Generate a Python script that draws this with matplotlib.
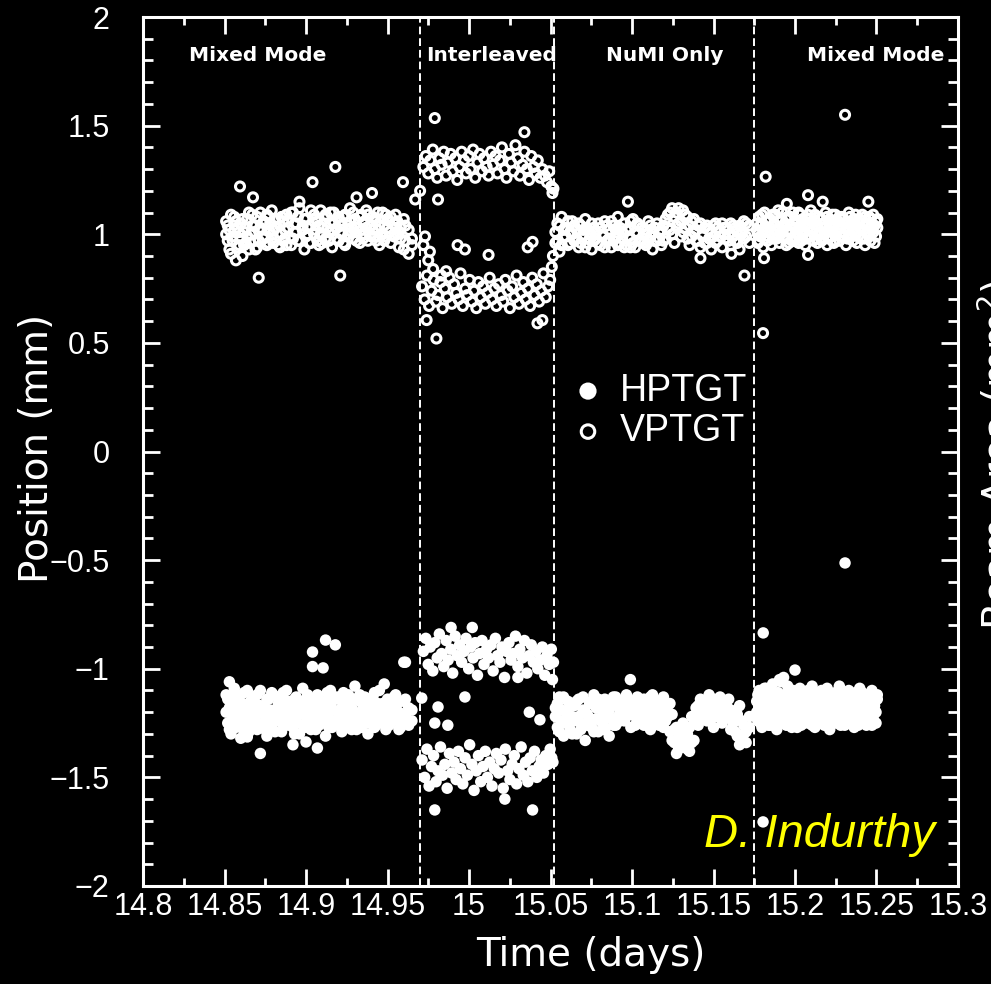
import numpy as np
import matplotlib
matplotlib.use("Agg")
import matplotlib.pyplot as plt
from matplotlib.ticker import MultipleLocator, FixedLocator, FixedFormatter

# ---- data (time in days, position in mm) ----
# mixed mode, first block (two readings per time stamp)
t_mix1 = [14.851, 14.852, 14.853, 14.854, 14.855, 14.856, 14.857, 14.858, 14.859, 14.860,
          14.861, 14.862, 14.863, 14.864, 14.865, 14.866, 14.867, 14.868, 14.869, 14.870,
          14.871, 14.872, 14.874, 14.875, 14.876, 14.877, 14.878, 14.879, 14.880, 14.881,
          14.883, 14.884, 14.885, 14.886, 14.887, 14.888, 14.889, 14.891, 14.892, 14.893,
          14.894, 14.895, 14.896, 14.898, 14.899, 14.900, 14.901, 14.902, 14.903, 14.905,
          14.906, 14.907, 14.908, 14.909, 14.910, 14.912, 14.913, 14.914, 14.915, 14.916,
          14.917, 14.919, 14.920, 14.921, 14.922, 14.923, 14.924, 14.926, 14.927, 14.928,
          14.929, 14.930, 14.931, 14.933, 14.934, 14.935, 14.936, 14.937, 14.938, 14.940,
          14.941, 14.942, 14.943, 14.944, 14.945, 14.947, 14.948, 14.949, 14.950, 14.951,
          14.952, 14.954, 14.955, 14.956, 14.957, 14.958, 14.960, 14.961, 14.963, 14.965]
v_mix1 = [1.06, 0.97, 1.02, 0.91, 0.99, 1.08, 0.88, 1.03, 0.95, 1.05,
          0.90, 1.01, 0.96, 1.07, 0.93, 1.00, 1.09, 0.97, 1.04, 0.94,
          1.02, 1.10, 0.98, 1.05, 0.95, 1.08, 1.01, 1.11, 0.96, 1.03,
          1.07, 0.94, 1.00, 1.06, 0.98, 1.09, 1.03, 0.95, 1.10, 1.01,
          1.05, 0.97, 1.12, 1.02, 0.93, 1.07, 1.00, 1.04, 0.96, 1.09,
          1.02, 1.06, 0.95, 1.11, 1.03, 0.98, 1.08, 1.01, 1.05, 0.94,
          1.10, 1.03, 0.97, 1.06, 1.00, 1.08, 0.95, 1.04, 1.12, 1.01,
          0.98, 1.07, 1.03, 0.96, 1.09, 1.05, 1.00, 1.11, 0.97, 1.04,
          1.08, 0.99, 1.06, 1.02, 0.95, 1.10, 1.04, 0.99, 1.07, 1.01,
          0.96, 1.05, 1.09, 1.00, 0.94, 1.03, 1.07, 0.97, 1.02, 0.95]
v_mix1b = [1.00, 1.04, 0.93, 1.09, 0.97, 1.02, 1.06, 0.94, 1.01, 0.98,
           1.07, 0.95, 1.03, 0.99, 1.10, 0.96, 1.04, 1.01, 0.93, 1.08,
           0.97, 1.03, 1.06, 0.99, 1.09, 0.96, 1.05, 0.98, 1.02, 1.07,
           0.95, 1.04, 1.08, 0.97, 1.02, 0.95, 1.06, 1.10, 0.98, 1.05,
           1.01, 1.08, 0.97, 1.04, 1.07, 0.99, 1.03, 0.96, 1.11, 1.00,
           1.07, 0.97, 1.04, 1.00, 0.96, 1.09, 1.03, 0.97, 1.10, 1.02,
           1.05, 0.98, 1.08, 1.01, 1.04, 0.96, 1.09, 1.00, 1.06, 1.03,
           1.10, 1.01, 0.97, 1.08, 1.02, 0.98, 1.06, 1.03, 1.09, 0.99,
           1.02, 1.07, 0.97, 1.10, 1.04, 1.00, 0.97, 1.09, 1.03, 1.06,
           1.08, 0.99, 1.03, 1.06, 1.01, 0.98, 0.93, 1.04, 0.91, 0.98]
h_mix1 = [-1.12, -1.25, -1.18, -1.30, -1.21, -1.09, -1.27, -1.15, -1.23, -1.32,
          -1.19, -1.11, -1.26, -1.17, -1.29, -1.22, -1.13, -1.24, -1.16, -1.28,
          -1.20, -1.10, -1.25, -1.18, -1.31, -1.14, -1.22, -1.27, -1.12, -1.19,
          -1.24, -1.16, -1.29, -1.11, -1.21, -1.26, -1.15, -1.23, -1.18, -1.30,
          -1.13, -1.25, -1.20, -1.09, -1.27, -1.17, -1.22, -1.14, -1.28, -1.19,
          -1.24, -1.12, -1.26, -1.18, -1.21, -1.31, -1.15, -1.23, -1.10, -1.27,
          -1.19, -1.25, -1.14, -1.22, -1.29, -1.16, -1.20, -1.12, -1.26, -1.18,
          -1.23, -1.08, -1.28, -1.15, -1.21, -1.25, -1.13, -1.19, -1.30, -1.17,
          -1.22, -1.11, -1.26, -1.16, -1.24, -1.19, -1.07, -1.28, -1.14, -1.21,
          -1.25, -1.17, -1.12, -1.23, -1.20, -1.27, -1.15, -1.22, -1.18, -1.24]
h_mix1b = [-1.20, -1.14, -1.28, -1.17, -1.23, -1.11, -1.19, -1.26, -1.13, -1.21,
           -1.16, -1.29, -1.20, -1.10, -1.24, -1.15, -1.27, -1.18, -1.22, -1.12,
           -1.26, -1.17, -1.21, -1.28, -1.14, -1.24, -1.19, -1.11, -1.23, -1.29,
           -1.16, -1.21, -1.13, -1.26, -1.18, -1.10, -1.24, -1.19, -1.27, -1.14,
           -1.22, -1.17, -1.30, -1.15, -1.21, -1.25, -1.12, -1.19, -1.23, -1.16,
           -1.28, -1.20, -1.14, -1.25, -1.17, -1.22, -1.11, -1.27, -1.19, -1.15,
           -1.24, -1.13, -1.21, -1.26, -1.18, -1.11, -1.25, -1.16, -1.22, -1.28,
           -1.14, -1.20, -1.24, -1.12, -1.27, -1.18, -1.22, -1.15, -1.25, -1.20,
           -1.13, -1.27, -1.19, -1.23, -1.10, -1.16, -1.25, -1.21, -1.17, -1.26,
           -1.19, -1.13, -1.22, -1.16, -1.28, -1.21, -1.24, -1.14, -1.26, -1.19]

# interleaved, pulse type a
t_int_a = [14.9720, 14.9735, 14.9750, 14.9762, 14.9778, 14.9790, 14.9805, 14.9818, 14.9832, 14.9845,
           14.9860, 14.9872, 14.9888, 14.9900, 14.9915, 14.9928, 14.9942, 14.9955, 14.9970, 14.9982,
           14.9998, 15.0010, 15.0025, 15.0038, 15.0052, 15.0065, 15.0080, 15.0092, 15.0108, 15.0120,
           15.0135, 15.0148, 15.0162, 15.0175, 15.0190, 15.0202, 15.0218, 15.0230, 15.0245, 15.0258,
           15.0272, 15.0285, 15.0300, 15.0312, 15.0328, 15.0340, 15.0355, 15.0368, 15.0382, 15.0395,
           15.0410, 15.0422, 15.0438, 15.0450, 15.0465, 15.0478, 15.0492, 15.0505, 15.0512, 15.0518]
v_int_a = [1.31, 1.36, 1.28, 1.34, 1.39, 1.30, 1.26, 1.35, 1.32, 1.38,
           1.27, 1.33, 1.37, 1.29, 1.35, 1.25, 1.31, 1.38, 1.34, 1.28,
           1.36, 1.30, 1.39, 1.26, 1.33, 1.37, 1.29, 1.35, 1.31, 1.27,
           1.38, 1.32, 1.36, 1.28, 1.34, 1.40, 1.30, 1.26, 1.37, 1.33,
           1.29, 1.41, 1.35, 1.27, 1.32, 1.38, 1.30, 1.25, 1.36, 1.31,
           1.28, 1.34, 1.26, 1.30, 1.27, 1.24, 1.29, 1.22, 1.19, 1.21]
h_int_a = [-0.92, -0.86, -0.98, -0.90, -1.01, -0.88, -0.95, -0.84, -0.93, -0.99,
           -0.87, -0.96, -0.91, -1.02, -0.85, -0.94, -0.89, -0.97, -0.92, -0.86,
           -1.00, -0.90, -0.95, -0.88, -1.03, -0.93, -0.87, -0.98, -0.91, -0.95,
           -0.89, -1.01, -0.86, -0.94, -0.97, -0.90, -1.04, -0.92, -0.88, -0.96,
           -0.93, -0.85, -0.99, -0.91, -0.95, -0.87, -1.02, -0.94, -0.89, -0.97,
           -0.92, -1.00, -0.96, -0.90, -1.03, -0.94, -0.98, -0.91, -1.05, -0.97]

# interleaved, pulse type b
t_int_b = [14.9712, 14.9728, 14.9742, 14.9755, 14.9770, 14.9783, 14.9798, 14.9810, 14.9825, 14.9838,
           14.9852, 14.9866, 14.9880, 14.9894, 14.9908, 14.9921, 14.9935, 14.9948, 14.9962, 14.9976,
           14.9990, 15.0004, 15.0018, 15.0031, 15.0045, 15.0058, 15.0072, 15.0086, 15.0100, 15.0113,
           15.0127, 15.0141, 15.0155, 15.0168, 15.0182, 15.0196, 15.0210, 15.0223, 15.0237, 15.0251,
           15.0265, 15.0278, 15.0292, 15.0306, 15.0320, 15.0333, 15.0347, 15.0361, 15.0375, 15.0388,
           15.0402, 15.0416, 15.0430, 15.0443, 15.0457, 15.0471, 15.0485, 15.0498, 15.0508, 15.0515]
v_int_b = [0.76, 0.70, 0.81, 0.67, 0.74, 0.79, 0.69, 0.72, 0.78, 0.66,
           0.75, 0.71, 0.80, 0.68, 0.77, 0.73, 0.70, 0.82, 0.67, 0.75,
           0.72, 0.79, 0.69, 0.74, 0.66, 0.78, 0.71, 0.76, 0.68, 0.73,
           0.80, 0.70, 0.75, 0.67, 0.77, 0.72, 0.69, 0.79, 0.74, 0.66,
           0.76, 0.71, 0.81, 0.68, 0.73, 0.78, 0.70, 0.75, 0.67, 0.80,
           0.72, 0.77, 0.69, 0.74, 0.82, 0.71, 0.76, 0.79, 0.85, 0.90]
h_int_b = [-1.42, -1.50, -1.37, -1.54, -1.45, -1.40, -1.52, -1.47, -1.36, -1.49,
           -1.44, -1.55, -1.39, -1.48, -1.43, -1.51, -1.38, -1.46, -1.53, -1.41,
           -1.49, -1.35, -1.44, -1.56, -1.47, -1.40, -1.52, -1.45, -1.38, -1.50,
           -1.43, -1.54, -1.46, -1.39, -1.48, -1.42, -1.55, -1.37, -1.47, -1.51,
           -1.44, -1.40, -1.53, -1.46, -1.36, -1.49, -1.43, -1.52, -1.41, -1.47,
           -1.38, -1.50, -1.45, -1.42, -1.48, -1.40, -1.44, -1.37, -1.41, -1.43]

# NuMI only (two readings per time stamp)
t_numi = [15.0530, 15.0542, 15.0555, 15.0568, 15.0580, 15.0594, 15.0607, 15.0620, 15.0633, 15.0646,
          15.0660, 15.0673, 15.0686, 15.0700, 15.0713, 15.0726, 15.0740, 15.0753, 15.0766, 15.0780,
          15.0793, 15.0806, 15.0820, 15.0833, 15.0846, 15.0860, 15.0873, 15.0886, 15.0900, 15.0913,
          15.0926, 15.0940, 15.0953, 15.0966, 15.0980, 15.0993, 15.1006, 15.1020, 15.1033, 15.1046,
          15.1060, 15.1073, 15.1086, 15.1100, 15.1113, 15.1126, 15.1140, 15.1153, 15.1166, 15.1180,
          15.1193, 15.1206, 15.1220, 15.1233, 15.1246, 15.1260, 15.1273, 15.1286, 15.1300, 15.1313,
          15.1326, 15.1340, 15.1353, 15.1366, 15.1380, 15.1393, 15.1406, 15.1420, 15.1433, 15.1446,
          15.1460, 15.1473, 15.1486, 15.1500, 15.1513, 15.1526, 15.1540, 15.1553, 15.1566, 15.1580,
          15.1593, 15.1606, 15.1620, 15.1633, 15.1646, 15.1660, 15.1673, 15.1686, 15.1700, 15.1720]
v_numi = [0.96, 1.05, 0.92, 1.08, 0.99, 1.03, 0.95, 1.01, 1.06, 0.97,
          1.02, 0.94, 1.04, 0.99, 1.07, 0.96, 1.01, 0.93, 1.03, 0.98,
          1.05, 0.95, 1.00, 1.06, 0.97, 1.02, 0.94, 1.04, 0.99, 1.08,
          0.96, 1.01, 1.05, 0.95, 1.03, 0.98, 1.07, 0.94, 1.00, 1.04,
          0.97, 1.02, 0.95, 1.06, 0.99, 0.93, 1.03, 0.97, 1.01, 0.95,
          1.04, 0.98, 1.09, 1.02, 1.12, 0.96, 1.10, 1.05, 0.99, 1.11,
          1.03, 1.08, 0.95, 1.06, 1.01, 0.97, 1.04, 0.94, 1.00, 1.03,
          0.96, 1.02, 0.93, 0.99, 1.05, 0.97, 1.01, 0.94, 1.03, 0.98,
          1.00, 0.95, 1.04, 0.97, 1.02, 0.93, 1.01, 0.98, 1.05, 0.96]
v_numib = [1.01, 0.97, 1.04, 0.95, 1.02, 0.99, 1.06, 0.96, 1.00, 1.04,
           0.98, 1.05, 0.96, 1.02, 0.94, 1.03, 0.98, 1.05, 0.97, 1.01,
           0.96, 1.03, 0.99, 0.94, 1.04, 0.98, 1.06, 0.97, 1.02, 0.95,
           1.03, 0.98, 0.94, 1.02, 0.99, 1.06, 0.96, 1.01, 1.05, 0.97,
           1.03, 0.96, 1.00, 0.97, 1.04, 1.01, 0.97, 1.05, 0.98, 1.02,
           0.97, 1.07, 1.03, 1.10, 1.00, 1.08, 1.04, 1.12, 1.06, 1.01,
           1.09, 0.98, 1.04, 0.99, 1.07, 1.02, 0.97, 1.05, 0.99, 0.96,
           1.04, 0.98, 1.01, 1.04, 0.96, 1.03, 0.99, 1.05, 1.00, 1.03,
           0.97, 1.05, 0.99, 1.03, 0.96, 1.04, 1.00, 1.06, 0.99, 1.04]
h_numi = [-1.18, -1.27, -1.13, -1.24, -1.31, -1.20, -1.15, -1.28, -1.22, -1.17,
          -1.30, -1.14, -1.25, -1.19, -1.33, -1.21, -1.16, -1.27, -1.12, -1.23,
          -1.29, -1.18, -1.25, -1.14, -1.21, -1.31, -1.17, -1.26, -1.13, -1.22,
          -1.19, -1.15, -1.24, -1.12, -1.20, -1.27, -1.16, -1.22, -1.13, -1.25,
          -1.18, -1.14, -1.23, -1.17, -1.28, -1.12, -1.21, -1.15, -1.26, -1.19,
          -1.13, -1.24, -1.17, -1.29, -1.21, -1.34, -1.27, -1.37, -1.31, -1.25,
          -1.36, -1.30, -1.38, -1.22, -1.33, -1.18, -1.26, -1.14, -1.21, -1.17,
          -1.24, -1.12, -1.19, -1.27, -1.15, -1.22, -1.13, -1.25, -1.18, -1.21,
          -1.14, -1.28, -1.20, -1.24, -1.31, -1.17, -1.33, -1.26, -1.29, -1.22]
h_numib = [-1.22, -1.16, -1.29, -1.19, -1.13, -1.25, -1.21, -1.17, -1.30, -1.24,
           -1.15, -1.22, -1.28, -1.13, -1.20, -1.26, -1.23, -1.15, -1.29, -1.18,
           -1.14, -1.24, -1.20, -1.28, -1.16, -1.19, -1.23, -1.13, -1.26, -1.17,
           -1.24, -1.20, -1.14, -1.22, -1.17, -1.15, -1.21, -1.26, -1.18, -1.14,
           -1.22, -1.26, -1.16, -1.20, -1.13, -1.24, -1.18, -1.22, -1.15, -1.23,
           -1.27, -1.18, -1.22, -1.16, -1.33, -1.28, -1.39, -1.32, -1.35, -1.29,
           -1.33, -1.37, -1.27, -1.34, -1.25, -1.22, -1.17, -1.23, -1.16, -1.20,
           -1.15, -1.18, -1.23, -1.14, -1.20, -1.16, -1.21, -1.15, -1.23, -1.17,
           -1.22, -1.19, -1.25, -1.29, -1.21, -1.35, -1.24, -1.30, -1.34, -1.27]

# mixed mode, second block (two readings per time stamp)
t_mix2 = [15.1765, 15.1772, 15.1780, 15.1788, 15.1797, 15.1805, 15.1813, 15.1822, 15.1830, 15.1838,
          15.1847, 15.1855, 15.1863, 15.1872, 15.1880, 15.1888, 15.1897, 15.1905, 15.1913, 15.1922,
          15.1930, 15.1938, 15.1947, 15.1955, 15.1963, 15.1972, 15.1980, 15.1988, 15.1997, 15.2005,
          15.2013, 15.2022, 15.2030, 15.2038, 15.2047, 15.2055, 15.2063, 15.2072, 15.2080, 15.2088,
          15.2097, 15.2105, 15.2113, 15.2122, 15.2130, 15.2138, 15.2147, 15.2155, 15.2163, 15.2172,
          15.2180, 15.2188, 15.2197, 15.2205, 15.2213, 15.2222, 15.2230, 15.2238, 15.2247, 15.2255,
          15.2263, 15.2272, 15.2280, 15.2288, 15.2297, 15.2305, 15.2313, 15.2322, 15.2330, 15.2338,
          15.2347, 15.2355, 15.2363, 15.2372, 15.2380, 15.2388, 15.2397, 15.2405, 15.2413, 15.2422,
          15.2430, 15.2438, 15.2447, 15.2455, 15.2463, 15.2472, 15.2480, 15.2488, 15.2497, 15.2505]
v_mix2 = [1.02, 0.96, 1.08, 0.99, 1.05, 0.94, 1.10, 1.01, 0.97, 1.06,
          1.03, 0.95, 1.09, 1.00, 1.04, 0.98, 1.11, 0.96, 1.07, 1.02,
          0.99, 1.05, 0.95, 1.08, 1.01, 1.04, 0.97, 1.10, 1.03, 0.98,
          1.06, 0.96, 1.09, 1.02, 1.00, 1.05, 0.95, 1.07, 1.03, 0.99,
          1.11, 1.01, 0.97, 1.06, 1.04, 0.96, 1.08, 1.00, 1.03, 0.98,
          1.05, 1.10, 0.95, 1.02, 1.07, 0.99, 1.04, 0.96, 1.09, 1.01,
          1.06, 0.97, 1.03, 1.08, 0.99, 1.05, 0.95, 1.02, 1.10, 1.00,
          1.04, 0.97, 1.07, 1.01, 0.96, 1.06, 1.03, 0.98, 1.09, 1.02,
          0.95, 1.05, 1.00, 1.08, 0.97, 1.04, 1.01, 0.96, 1.06, 1.03]
v_mix2b = [1.05, 1.00, 0.97, 1.04, 1.09, 1.01, 0.98, 1.06, 1.03, 0.99,
           1.07, 1.01, 0.98, 1.05, 1.09, 1.02, 0.99, 1.06, 1.00, 1.10,
           1.04, 0.98, 1.07, 1.02, 0.96, 1.08, 1.01, 1.05, 0.97, 1.06,
           1.00, 1.10, 1.03, 0.97, 1.07, 1.01, 1.04, 0.98, 1.09, 1.05,
           0.99, 1.06, 1.02, 1.09, 0.98, 1.04, 1.01, 1.07, 0.97, 1.05,
           1.00, 1.03, 1.08, 0.98, 1.05, 1.01, 1.09, 1.03, 0.97, 1.06,
           1.02, 1.08, 0.99, 1.04, 1.07, 1.01, 1.05, 0.98, 1.03, 1.08,
           0.99, 1.05, 1.02, 1.09, 1.04, 0.99, 1.07, 1.02, 1.05, 0.98,
           1.08, 1.01, 1.04, 0.99, 1.07, 1.02, 1.09, 1.04, 0.99, 1.07]
h_mix2 = [-1.15, -1.24, -1.10, -1.20, -1.27, -1.13, -1.18, -1.09, -1.22, -1.26,
          -1.14, -1.19, -1.07, -1.23, -1.16, -1.28, -1.11, -1.05, -1.21, -1.17,
          -1.25, -1.12, -1.19, -1.08, -1.23, -1.15, -1.27, -1.10, -1.18, -1.24,
          -1.13, -1.20, -1.09, -1.26, -1.16, -1.22, -1.11, -1.18, -1.25, -1.14,
          -1.21, -1.08, -1.17, -1.27, -1.12, -1.23, -1.15, -1.19, -1.10, -1.25,
          -1.16, -1.22, -1.09, -1.20, -1.28, -1.13, -1.18, -1.24, -1.11, -1.17,
          -1.21, -1.08, -1.26, -1.15, -1.19, -1.12, -1.23, -1.17, -1.10, -1.25,
          -1.14, -1.20, -1.27, -1.11, -1.18, -1.22, -1.09, -1.16, -1.24, -1.13,
          -1.19, -1.26, -1.12, -1.21, -1.15, -1.10, -1.23, -1.17, -1.20, -1.14]
h_mix2b = [-1.20, -1.12, -1.17, -1.25, -1.14, -1.21, -1.09, -1.23, -1.16, -1.19,
           -1.26, -1.10, -1.21, -1.15, -1.24, -1.12, -1.20, -1.14, -1.06, -1.23,
           -1.13, -1.19, -1.26, -1.15, -1.10, -1.21, -1.17, -1.24, -1.13, -1.20,
           -1.27, -1.15, -1.22, -1.12, -1.19, -1.25, -1.16, -1.21, -1.10, -1.23,
           -1.15, -1.26, -1.20, -1.13, -1.18, -1.24, -1.11, -1.22, -1.16, -1.20,
           -1.26, -1.14, -1.19, -1.23, -1.11, -1.21, -1.16, -1.12, -1.25, -1.19,
           -1.14, -1.23, -1.18, -1.11, -1.22, -1.26, -1.15, -1.20, -1.24, -1.13,
           -1.19, -1.25, -1.12, -1.21, -1.16, -1.26, -1.14, -1.20, -1.11, -1.23,
           -1.17, -1.13, -1.24, -1.18, -1.22, -1.26, -1.14, -1.19, -1.25, -1.12]

# stray points
v_out_t = [14.8595, 14.8675, 14.871, 14.896, 14.904, 14.918, 14.921, 14.931, 14.9405, 14.9595,
           14.967, 14.970, 14.972, 14.973, 14.975, 14.976, 14.978, 14.983, 14.986,
           14.979, 15.034, 14.974, 14.980, 14.993, 14.9975, 15.039, 15.036, 15.042, 15.045,
           15.012, 14.981, 15.0975, 15.099, 15.142, 15.161, 15.169, 15.182, 15.1804, 15.2307,
           15.208, 15.217, 15.245, 15.181, 15.208, 15.195]
v_out_y = [1.22, 1.17, 0.80, 1.15, 1.24, 1.31, 0.81, 1.17, 1.19, 1.24,
           1.16, 1.20, 0.95, 0.99, 0.88, 0.92, 0.84, 0.81, 0.83,
           1.535, 1.47, 0.605, 0.52, 0.95, 0.93, 0.965, 0.94, 0.59, 0.605,
           0.905, 1.16, 1.15, 0.94, 0.89, 0.91, 0.81, 1.265, 0.545, 1.55,
           1.18, 1.15, 1.15, 0.89, 0.905, 1.14]
h_out_t = [14.872, 14.892, 14.900, 14.907, 14.904, 14.9105, 14.904, 14.912, 14.918, 14.960,
           14.864, 14.853, 14.979, 15.039, 15.022, 14.9975, 14.981, 14.979, 14.987, 15.037,
           15.0435, 15.030, 15.002, 14.989, 14.961, 14.971, 15.099, 15.1805, 15.1804, 15.2307,
           15.193, 15.200]
h_out_y = [-1.39, -1.35, -1.337, -1.365, -0.99, -0.996, -0.923, -0.868, -0.89, -0.97,
           -1.314, -1.06, -1.65, -1.65, -1.60, -1.13, -1.176, -1.25, -1.26, -1.20,
           -1.235, -1.04, -0.81, -0.81, -0.97, -1.135, -1.05, -0.835, -1.705, -0.513,
           -1.04, -1.006]

# beam mode boundaries and labels
mode_edges = [14.970, 15.052, 15.175]
mode_names = ["Mixed Mode", "Interleaved", "NuMI Only", "Mixed Mode"]
mode_centers = [14.8706, 15.014, 15.120, 15.2497]

xtick_vals = [14.8, 14.85, 14.9, 14.95, 15.0, 15.05, 15.1, 15.15, 15.2, 15.25, 15.3]
xtick_labels = ["14.8", "14.85", "14.9", "14.95", "15", "15.05", "15.1", "15.15", "15.2", "15.25", "15.3"]
ytick_vals = [-2, -1.5, -1, -0.5, 0, 0.5, 1, 1.5, 2]
ytick_labels = ["\u22122", "\u22121.5", "\u22121", "\u22120.5", "0", "0.5", "1", "1.5", "2"]

# put the segments together
h_t = np.concatenate([t_mix1, t_mix1, t_int_a, t_int_b, t_numi, t_numi, t_mix2, t_mix2, h_out_t])
h_y = np.concatenate([h_mix1, h_mix1b, h_int_a, h_int_b, h_numi, h_numib, h_mix2, h_mix2b, h_out_y])
v_t = np.concatenate([t_mix1, t_mix1, t_int_a, t_int_b, t_numi, t_numi, t_mix2, t_mix2, v_out_t])
v_y = np.concatenate([v_mix1, v_mix1b, v_int_a, v_int_b, v_numi, v_numib, v_mix2, v_mix2b, v_out_y])

tick_font = "Liberation Sans"

fig = plt.figure(figsize=(9.91, 9.84), dpi=100, facecolor="black")
ax = fig.add_axes([0.1443, 0.0996, 0.8224, 0.8831])
ax.set_facecolor("black")

hp = ax.scatter(h_t, h_y, s=68, c="white", edgecolors="none", label="HPTGT", zorder=3)
vp = ax.scatter(v_t, v_y, s=42, facecolors="none", edgecolors="white", linewidths=2.2,
                label="VPTGT", zorder=3)

for xe in mode_edges:
    ax.axvline(xe, color="white", lw=1.4, dashes=(4, 2), zorder=2)
for name, xc in zip(mode_names, mode_centers):
    ax.text(xc, 1.825, name, color="white", fontsize=14.5, fontweight="bold",
            ha="center", va="center", family="DejaVu Sans")

ax.set_xlim(14.8, 15.3)
ax.set_ylim(-2, 2)
ax.xaxis.set_major_locator(FixedLocator(xtick_vals))
ax.xaxis.set_major_formatter(FixedFormatter(xtick_labels))
ax.yaxis.set_major_locator(FixedLocator(ytick_vals))
ax.yaxis.set_major_formatter(FixedFormatter(ytick_labels))
ax.xaxis.set_minor_locator(MultipleLocator(0.025))
ax.yaxis.set_minor_locator(MultipleLocator(0.1))

ax.tick_params(which="both", direction="in", top=True, right=True, color="white", width=2)
ax.tick_params(which="major", length=12.5)
ax.tick_params(axis="x", which="minor", length=5.5)
ax.tick_params(axis="y", which="minor", length=7)
ax.tick_params(axis="x", which="major", pad=4, labelsize=22, labelcolor="white")
ax.tick_params(axis="y", which="major", pad=24, labelsize=22, labelcolor="white")
for lab in ax.get_xticklabels() + ax.get_yticklabels():
    lab.set_family(tick_font)

for sp in ax.spines.values():
    sp.set_color("white")
    sp.set_linewidth(2.2)

leg = ax.legend(handles=[hp, vp], loc="upper left", bbox_to_anchor=(0.5, 0.612),
                frameon=False, labelcolor="white", markerscale=1.5,
                handletextpad=0.35, labelspacing=0.12, borderpad=0, handlelength=1.0,
                prop={"family": "Liberation Sans", "size": 27})

fig.text(591 / 991, 1 - 955 / 984, "Time (days)", color="white", fontsize=28,
         ha="center", va="center", family="DejaVu Sans")
fig.text(37 / 991, 1 - 448 / 984, "Position (mm)", color="white", fontsize=28,
         ha="center", va="center", rotation=90, family="DejaVu Sans")
fig.text(975 / 991, 1 - 455 / 984, "Beam Area (mm$^2$)", color="white", fontsize=28,
         ha="left", va="center", rotation=90, family="DejaVu Sans")
ax.text(0.972, 0.059, "D. Indurthy", transform=ax.transAxes, color="#ffff00",
        fontsize=34, style="italic", ha="right", va="center", family="Liberation Sans")

fig.savefig("out.png", dpi=100, facecolor="black")
